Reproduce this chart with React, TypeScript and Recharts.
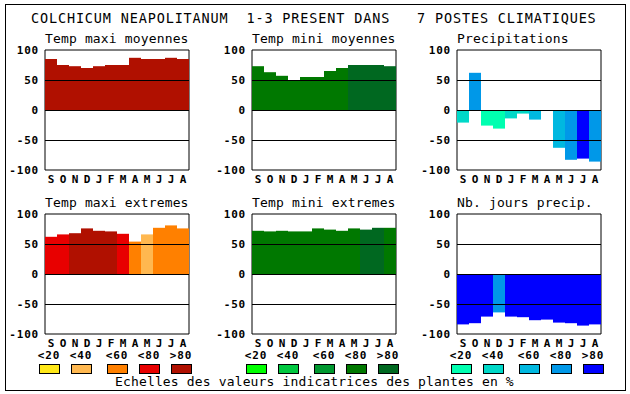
import React from 'react';
import { BarChart, Bar, XAxis, YAxis, Cell, ReferenceLine, ReferenceArea } from 'recharts';

const months = ['S', 'O', 'N', 'D', 'J', 'F', 'M', 'A', 'M', 'J', 'J', 'A'];
const yTicks = [-100, -50, 0, 50, 100];
const classLabels = ['<20', '<40', '<60', '<80', '>80'];

const redScale = ['#ffe818', '#ffb850', '#ff8000', '#e80000', '#b01000'];
const greenScale = ['#00ff00', '#00c840', '#009830', '#007800', '#006820'];
const blueScale = ['#00ffb0', '#00d8c8', '#00b8e0', '#0098e8', '#0000ff'];

// values per month (S..A) and the class (0..4) that picks the colour
const tmaxMoy = [85, 75, 73, 70, 73, 75, 75, 87, 85, 85, 87, 85];
const tmaxMoyCls = [4, 4, 4, 4, 4, 4, 4, 4, 4, 4, 4, 4];
const tminMoy = [73, 63, 57, 50, 55, 55, 65, 70, 75, 75, 75, 73];
const tminMoyCls = [3, 3, 3, 3, 3, 3, 3, 3, 4, 4, 4, 4];
const precip = [-21, 62, -26, -31, -14, -6, -16, 0, -63, -83, -81, -86];
const precipCls = [1, 3, 0, 0, 1, 1, 2, 2, 2, 3, 4, 3];
const tmaxExt = [62, 66, 68, 76, 72, 71, 67, 54, 66, 77, 81, 76];
const tmaxExtCls = [3, 3, 4, 4, 4, 4, 3, 2, 1, 2, 2, 2];
const tminExt = [72, 71, 72, 71, 71, 76, 74, 72, 76, 74, 77, 77];
const tminExtCls = [3, 3, 3, 3, 3, 3, 3, 3, 3, 4, 4, 3];
const joursPrecip = [-84, -82, -71, -64, -71, -72, -77, -76, -81, -82, -86, -84];
const joursPrecipCls = [4, 4, 4, 3, 4, 4, 4, 4, 4, 4, 4, 4];

const mono = '"DejaVu Sans Mono", monospace';
const legendOffsets = [-6, 26, 62, 94, 126];

const XTick = (props: any) => {
  const { x, y, payload } = props;
  return (
    <text x={x} y={y + 11} textAnchor="middle" fontFamily={mono} fontWeight="bold" fontSize={11} fill="#000">
      {payload.value}
    </text>
  );
};

const YTick = (props: any) => {
  const { x, y, payload } = props;
  return (
    <text x={x} y={y + 4} textAnchor="end" fontFamily={mono} fontWeight="bold" fontSize={11} letterSpacing={0.8} fill="#000">
      {payload.value}
    </text>
  );
};

interface PanelProps {
  left: number;
  top: number;
  values: number[];
  classes: number[];
  scale: string[];
}

const Panel: React.FC<PanelProps> = ({ left, top, values, classes, scale }) => {
  const data = months.map((m, i) => ({ m, v: values[i] }));
  return (
    <div style={{ position: 'absolute', left: left - 45, top: top - 10 }}>
      <BarChart width={194} height={152} data={data} margin={{ top: 10, right: 5, bottom: 0, left: 0 }} barCategoryGap={0} barGap={0}>
        <XAxis dataKey="m" interval={0} height={22} axisLine={false} tickLine={false} tickSize={0} tick={<XTick />} />
        <YAxis type="number" domain={[-100, 100]} ticks={yTicks} width={45} axisLine={false} tickLine={false} tickSize={6} tickMargin={0} tick={<YTick />} />
        <Bar dataKey="v" isAnimationActive={false}>
          {data.map((_, i) => (
            <Cell key={i} fill={scale[classes[i]]} />
          ))}
        </Bar>
        <ReferenceLine y={50} stroke="#000" />
        <ReferenceLine y={0} stroke="#000" />
        <ReferenceLine y={-50} stroke="#000" />
        <ReferenceArea y1={-100} y2={100} fill="none" fillOpacity={0} stroke="#000" strokeOpacity={1} />
      </BarChart>
    </div>
  );
};

const Legend: React.FC<{ left: number; scale: string[] }> = ({ left, scale }) => (
  <g>
    {scale.map((c, i) => (
      <g key={i}>
        <text x={left + legendOffsets[i] + 10} y={358.5} textAnchor="middle" fontFamily={mono} fontWeight="bold" fontSize={11} letterSpacing={0.8}>
          {classLabels[i]}
        </text>
        <rect x={left + legendOffsets[i] + 0.5} y={364.5} width={20} height={9} fill={c} stroke="#000" />
      </g>
    ))}
  </g>
);

const panelsTop = [
  { left: 45, title: 'Temp maxi moyennes', values: tmaxMoy, classes: tmaxMoyCls, scale: redScale },
  { left: 252, title: 'Temp mini moyennes', values: tminMoy, classes: tminMoyCls, scale: greenScale },
  { left: 457, title: 'Precipitations', values: precip, classes: precipCls, scale: blueScale },
];
const panelsBottom = [
  { left: 45, title: 'Temp maxi extremes', values: tmaxExt, classes: tmaxExtCls, scale: redScale },
  { left: 252, title: 'Temp mini extremes', values: tminExt, classes: tminExtCls, scale: greenScale },
  { left: 457, title: 'Nb. jours precip.', values: joursPrecip, classes: joursPrecipCls, scale: blueScale },
];

export default function App() {
  return (
    <div style={{ position: 'absolute', left: 0, top: 0, width: 630, height: 394, background: '#fff' }}>
      <style>{'svg line, svg rect { shape-rendering: crispEdges; }'}</style>
      <div style={{ position: 'absolute', left: 5, top: 4, width: 621, height: 387, border: '1px solid #000', boxSizing: 'border-box' }} />
      {panelsTop.map((p) => (
        <Panel key={p.title} left={p.left} top={50} values={p.values} classes={p.classes} scale={p.scale} />
      ))}
      {panelsBottom.map((p) => (
        <Panel key={p.title} left={p.left} top={214} values={p.values} classes={p.classes} scale={p.scale} />
      ))}
      <svg width={630} height={394} style={{ position: 'absolute', left: 0, top: 0, pointerEvents: 'none' }}>
        <text x={31} y={23} fontFamily={mono} fontSize={13.5} letterSpacing={0.85} fill="#000" style={{ whiteSpace: 'pre' }}>
          {'COLCHICUM NEAPOLITANUM  1-3 PRESENT DANS   7 POSTES CLIMATIQUES'}
        </text>
        {panelsTop.map((p) => (
          <text key={p.title} x={p.left} y={43} fontFamily={mono} fontSize={13} letterSpacing={0.15} fill="#000">
            {p.title}
          </text>
        ))}
        {panelsBottom.map((p) => (
          <text key={p.title} x={p.left} y={207} fontFamily={mono} fontSize={13} letterSpacing={0.15} fill="#000">
            {p.title}
          </text>
        ))}
        {panelsBottom.map((p) => (
          <Legend key={p.title} left={p.left} scale={p.scale} />
        ))}
        <text x={115} y={386} fontFamily={mono} fontSize={13} letterSpacing={0.15} fill="#000" style={{ whiteSpace: 'pre' }}>
          {'Echelles des valeurs indicatrices des plantes en %'}
        </text>
      </svg>
    </div>
  );
}
